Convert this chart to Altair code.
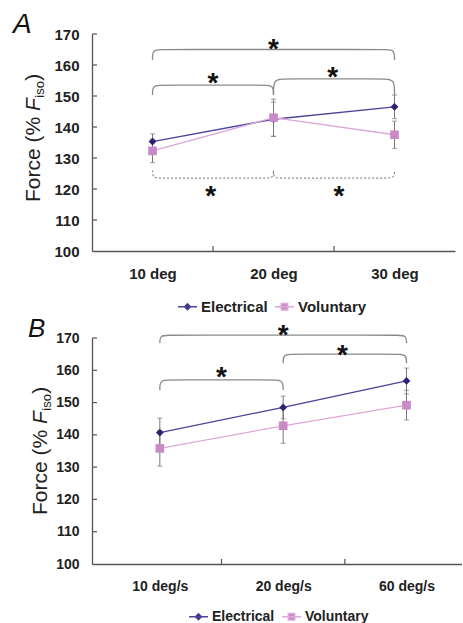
import altair as alt
import pandas as pd

SERIES = ["Electrical", "Voluntary"]

# Panel A
A_cats = ["10 deg", "20 deg", "30 deg"]
A_elec = [135.3, 142.5, 146.5]
A_elec_err = [2.5, 5.5, 3.8]
A_vol = [132.3, 143.0, 137.5]
A_vol_err = [3.8, 6.0, 4.4]
# brackets: (from category, to category, level, end level, style)
A_brackets = [(1, 3, 165.0, 161.6, "solid"), (1, 2, 153.5, 150.3, "solid"),
              (2, 3, 155.5, 150.3, "solid"), (1, 2, 123.5, 126.0, "dotted"),
              (2, 3, 123.5, 126.0, "dotted")]
A_stars = [(2.0, 167.8), (1.5, 156.8), (2.49, 158.7), (1.48, 120.3), (2.54, 120.3)]

# Panel B
B_cats = ["10 deg/s", "20 deg/s", "60 deg/s"]
B_elec = [140.7, 148.5, 156.7]
B_elec_err = [4.5, 3.5, 4.0]
B_vol = [135.8, 142.8, 149.2]
B_vol_err = [5.5, 5.4, 4.6]
B_brackets = [(1, 3, 170.9, 168.4, "solid"), (2, 3, 165.0, 162.2, "solid"),
              (1, 2, 157.0, 153.9, "solid")]
B_stars = [(2.0, 173.4), (2.48, 167.2), (1.5, 160.4)]

Y_TICKS = [100, 110, 120, 130, 140, 150, 160, 170]

FONT = "Liberation Sans"
MARK_COL = ["#2b2272", "#c98bc8"]
LINE_COL = ["#4b4398", "#dba8d8"]
LEG_SHAPES = ["M-1,0H1M0,-0.32L0.32,0L0,0.32L-0.32,0Z",
              "M-1,0H1M-0.34,-0.34H0.34V0.34H-0.34Z"]


def bracket_rows(brackets):
    rows = []
    r = 0.08
    for b, (x1, x2, yl, ye, style) in enumerate(brackets):
        pts = [(x1, ye), (x1, ye), (x1, yl), (x1 + r, yl), (x2 - r, yl),
               (x2, yl), (x2, ye), (x2, ye)]
        for i, (x, y) in enumerate(pts):
            rows.append({"b": b, "i": i, "x": x, "y": y, "style": style})
    return pd.DataFrame(rows)


def panel(letter, cats, elec, elec_err, vol, vol_err, brackets, stars,
          w, h, xdom, fs, letter_x, letter_fs, title_x, title_y, leg_x, leg_y):
    rows = []
    for i in range(3):
        rows.append({"x": i + 1, "series": "Electrical", "value": elec[i],
                     "lo": elec[i] - elec_err[i], "hi": elec[i] + elec_err[i]})
        rows.append({"x": i + 1, "series": "Voluntary", "value": vol[i],
                     "lo": vol[i] - vol_err[i], "hi": vol[i] + vol_err[i]})
    df = pd.DataFrame(rows)

    label_arr = "[" + ",".join("'%s'" % c for c in cats) + "]"
    xscale = alt.Scale(domain=xdom, nice=False, zero=False)
    yscale = alt.Scale(domain=[100, 170], nice=False, zero=False)
    xaxis = alt.Axis(values=[1, 2, 3], labelExpr=label_arr + "[datum.value-1]",
                     ticks=False, grid=False, title=None, labelFont=FONT,
                     labelFontSize=fs, labelFontWeight="bold", labelColor="#222",
                     labelPadding=15, domainColor="#555", domainWidth=1.3)
    yaxis = alt.Axis(values=Y_TICKS, ticks=False, grid=False, title=None,
                     labelFont=FONT, labelFontSize=fs, labelFontWeight="bold",
                     labelColor="#222", labelPadding=13, domainColor="#555",
                     domainWidth=1.3)

    def X(f):
        return alt.X(f, scale=xscale, axis=xaxis)

    def Y(f):
        return alt.Y(f, scale=yscale, axis=yaxis)

    bdf = bracket_rows(brackets)
    solid = alt.Chart(bdf).transform_filter("datum.style == 'solid'").mark_line(
        interpolate="basis", color="#8a8a8a", strokeWidth=1.3).encode(
        x=X("x:Q"), y=Y("y:Q"), detail="b:N", order="i:Q")
    layers = [solid]
    if any(b[4] == "dotted" for b in brackets):
        dotted = alt.Chart(bdf).transform_filter("datum.style == 'dotted'").mark_line(
            interpolate="basis", color="#8a8a8a", strokeWidth=1.2,
            strokeDash=[2, 2]).encode(
            x=X("x:Q"), y=Y("y:Q"), detail="b:N", order="i:Q")
        layers.append(dotted)

    ytick_df = pd.DataFrame({"v": Y_TICKS[1:]})
    yticks = alt.Chart(ytick_df).mark_rule(color="#555", strokeWidth=1.2).encode(
        x=alt.value(0), x2=alt.value(5), y=Y("v:Q"))
    xtick_df = pd.DataFrame({"v": [1.5, 2.5, 3.5]})
    xticks = alt.Chart(xtick_df).transform_filter(
        "datum.v < %f" % xdom[1]).mark_rule(color="#555", strokeWidth=1.2).encode(
        x=X("v:Q"), y=alt.value(h), y2=alt.value(h - 5))

    err = alt.Chart(df).mark_rule(color="#777", strokeWidth=1).encode(
        x=X("x:Q"), y=Y("lo:Q"), y2="hi:Q")
    cap_lo = alt.Chart(df).mark_tick(color="#777", size=5, thickness=1,
                                     orient="horizontal").encode(
        x=X("x:Q"), y=Y("lo:Q"))
    cap_hi = alt.Chart(df).mark_tick(color="#777", size=5, thickness=1,
                                     orient="horizontal").encode(
        x=X("x:Q"), y=Y("hi:Q"))

    lines = alt.Chart(df).mark_line(strokeWidth=1.3).encode(
        x=X("x:Q"), y=Y("value:Q"), detail="series:N",
        color=alt.Color("series:N", scale=alt.Scale(domain=SERIES, range=LINE_COL),
                        legend=None))
    points = alt.Chart(df).mark_point(filled=True, opacity=1).encode(
        x=X("x:Q"), y=Y("value:Q"),
        color=alt.Color("series:N", scale=alt.Scale(domain=SERIES, range=MARK_COL),
                        legend=None),
        shape=alt.Shape("series:N", scale=alt.Scale(domain=SERIES,
                                                    range=["diamond", "square"]),
                        legend=None),
        size=alt.Size("series:N", scale=alt.Scale(domain=SERIES, range=[60, 75]),
                      legend=None))

    leg = alt.Legend(title=None, orient="none", legendX=leg_x, legendY=leg_y,
                     direction="horizontal", symbolSize=360, labelFont=FONT,
                     labelFontSize=fs, labelFontWeight="bold", labelColor="#222",
                     columnPadding=4, labelOffset=3, symbolStrokeWidth=1.4)
    legend_layer = alt.Chart(df).transform_filter("datum.x < 0").mark_point(
        filled=True, opacity=1, strokeWidth=1.4).encode(
        x=X("x:Q"), y=Y("value:Q"),
        color=alt.Color("series:N", scale=alt.Scale(domain=SERIES, range=MARK_COL),
                        legend=leg),
        stroke=alt.Stroke("series:N", scale=alt.Scale(domain=SERIES, range=LINE_COL),
                          legend=leg),
        shape=alt.Shape("series:N", scale=alt.Scale(domain=SERIES, range=LEG_SHAPES),
                        legend=leg))

    sdf = pd.DataFrame({"x": [s[0] for s in stars], "y": [s[1] for s in stars],
                        "t": ["*"] * len(stars)})
    star_layer = alt.Chart(sdf).mark_text(font=FONT, fontSize=28, fontWeight="bold",
                                          color="#111", dy=17,
                                          baseline="alphabetic").encode(
        x=X("x:Q"), y=Y("y:Q"), text="t:N")

    letter_layer = alt.Chart(pd.DataFrame({"t": [letter]})).mark_text(
        font=FONT, fontSize=letter_fs, fontStyle="italic", align="left",
        baseline="alphabetic", color="#111").encode(
        text="t:N", x=alt.value(letter_x), y=alt.value(-1))

    # y-axis title "Force (% F_iso)" built from pieces
    pieces = [("Force (% ", 21, "normal", 0, 91.0),
              ("F", 21, "italic", 0, 13.3),
              ("iso", 13, "normal", 4, 17.0),
              (")", 21, "normal", 0, 7.0)]
    title_layers = []
    yy = title_y
    for txt, size, style, shift, length in pieces:
        title_layers.append(alt.Chart(pd.DataFrame({"t": [txt]})).mark_text(
            font=FONT, fontSize=size, fontStyle=style, angle=270, align="left",
            baseline="alphabetic", color="#222").encode(
            text="t:N", x=alt.value(title_x + shift), y=alt.value(yy)))
        yy -= length

    ch = alt.layer(*layers, yticks, xticks, err, cap_lo, cap_hi, lines, points,
                   legend_layer, star_layer, letter_layer, *title_layers).resolve_scale(
        color="independent", shape="independent", stroke="independent",
        size="independent").properties(width=w, height=h)
    return ch


chA = panel("A", A_cats, A_elec, A_elec_err, A_vol, A_vol_err, A_brackets, A_stars,
            w=363, h=217, xdom=[0.5, 3.5], fs=15, letter_x=-79, letter_fs=28,
            title_x=-52, title_y=168, leg_x=85, leg_y=262)
chB = panel("B", B_cats, B_elec, B_elec_err, B_vol, B_vol_err, B_brackets, B_stars,
            w=370, h=226, xdom=[0.45, 3.45], fs=14, letter_x=-64, letter_fs=26,
            title_x=-45, title_y=177, leg_x=96, leg_y=268)

chart = alt.vconcat(chA, chB, spacing=87, bounds="flush").resolve_scale(
    color="independent", shape="independent", stroke="independent",
    size="independent").properties(
    padding={"left": 13, "top": 11, "right": 0, "bottom": 0}
).configure_view(stroke=None)

chart.save("out.html", embed_options={"renderer": "svg", "actions": False})
